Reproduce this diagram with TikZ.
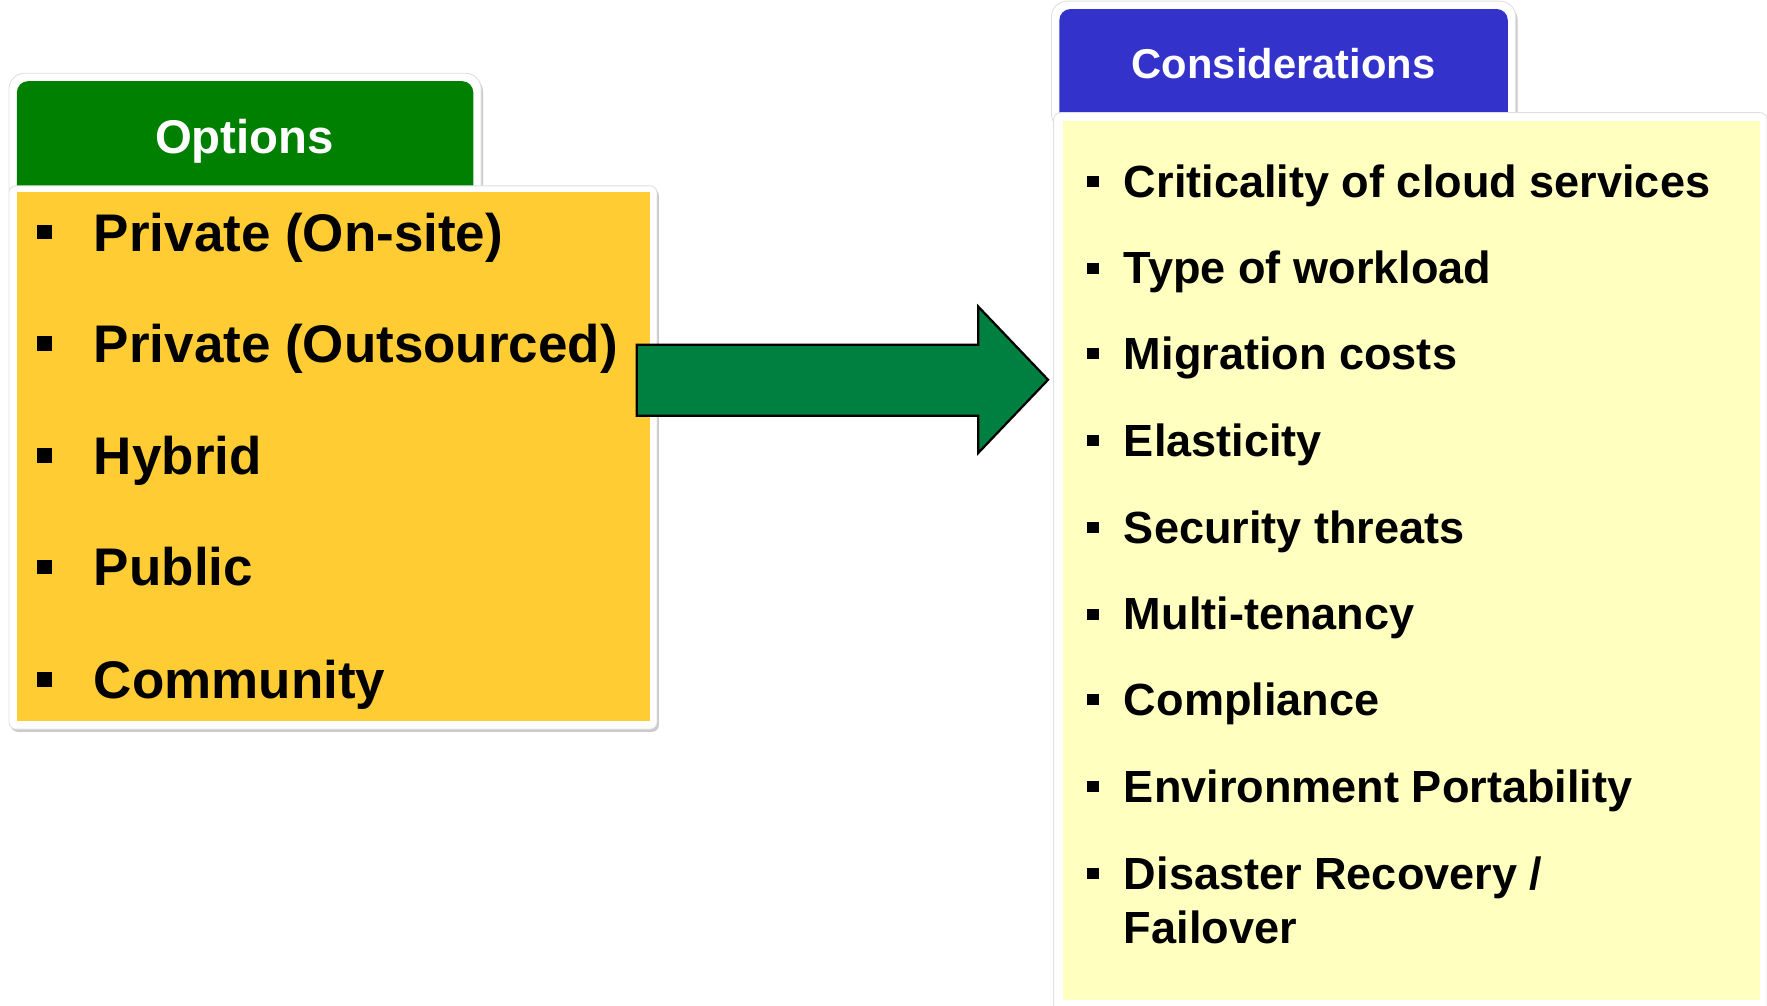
\documentclass[tikz,border=0pt]{standalone}
\usepackage{fontspec}
\setmainfont{Liberation Sans}
\usetikzlibrary{shadows}
\definecolor{tabGreen}{RGB}{0,128,0}
\definecolor{tabBlue}{RGB}{51,51,204}
\definecolor{boxYellow}{RGB}{255,204,51}
\definecolor{boxCream}{RGB}{255,255,192}
\definecolor{arrowGreen}{RGB}{0,128,64}
\newcommand{\drawOptItem}[3]{
    \fill[black] (33,#2-6.5) rectangle (46,#2+6.5);
    \node[optitem] (#1) at (83,#2+17) {#3}
}
\newcommand{\drawConItem}[3]{
    \fill[black] (965,#2-5) rectangle (975,#2+5);
    \node[conitem] (#1) at (997,#2+14) {#3}
}
\newcommand{\drawFrame}[4]{
    \filldraw[frame] (#1,#2) rectangle (#3,#4)
}

\begin{document}
\begin{tikzpicture}[x=0.5pt,y=-0.5pt,
    frame/.style={fill=white,draw=black!12,line width=0.4pt,rounded corners=3pt,
        drop shadow={shadow xshift=0.8pt,shadow yshift=-1.2pt,opacity=0.35,fill=black!60}},
    tabtitle/.style={anchor=base,inner sep=0pt,text=white,font=\bfseries},
    optitem/.style={anchor=base west,inner sep=0pt,font=\fontsize{23.5}{28}\selectfont\bfseries},
    conitem/.style={anchor=base west,inner sep=0pt,font=\fontsize{20}{24}\selectfont\bfseries}]
            \useasboundingbox (0,0) rectangle (1568,892);

            % options column
            \filldraw[frame,rounded corners=7pt] (8,65) rectangle (427,180);
            \fill[tabGreen,rounded corners=5pt] (15,72) rectangle (420,175);
            \node[tabtitle,font=\fontsize{21}{25}\selectfont\bfseries] (opttitle) at (217,136) {Options};
            \drawFrame{8}{165}{583}{647};
            \fill[boxYellow] (15,170) rectangle (577,640);

            \drawOptItem{opt1}{206}{Private (On-site)};
            \drawOptItem{opt2}{305}{Private (Outsourced)};
            \drawOptItem{opt3}{404}{Hybrid};
            \drawOptItem{opt4}{503}{Public};
            \drawOptItem{opt5}{603}{Community};

            % considerations column
            \filldraw[frame,rounded corners=7pt] (933,1) rectangle (1345,115);
            \fill[tabBlue,rounded corners=5pt] (940,8) rectangle (1338,110);
            \node[tabtitle,font=\fontsize{18.5}{22}\selectfont\bfseries] (contitle) at (1139,70) {Considerations};
            \drawFrame{935}{100}{1568}{900};
            \fill[boxCream] (943,107) rectangle (1562,887);

            \drawConItem{con1}{161}{Criticality of cloud services};
            \drawConItem{con2}{238}{Type of workload};
            \drawConItem{con3}{314}{Migration costs};
            \drawConItem{con4}{391}{Elasticity};
            \drawConItem{con5}{468}{Security threats};
            \drawConItem{con6}{545}{Multi-tenancy};
            \drawConItem{con7}{621}{Compliance};
            \drawConItem{con8}{698}{Environment Portability};
            \drawConItem{con9}{775}{Disaster Recovery /};
            \node[conitem] (con9b) at (997,837) {Failover};

            % block arrow
            \filldraw[fill=arrowGreen,draw=black,line width=1pt]
                (565,306) -- (868,306) -- (868,272) -- (930,337) -- (868,402) -- (868,369) -- (565,369) -- cycle;
\end{tikzpicture}
\end{document}
